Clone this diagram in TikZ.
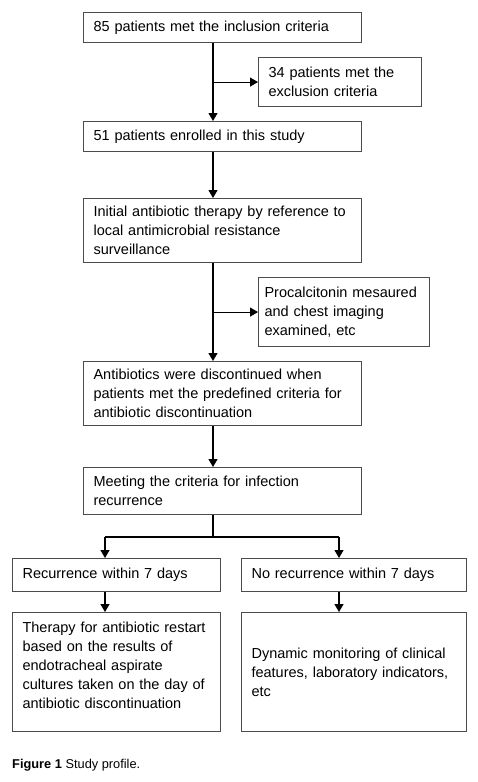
\documentclass[tikz,border=0pt]{standalone}
\usepackage{fontspec}
\setmainfont{Liberation Sans}
\usetikzlibrary{arrows.meta}
\begin{document}
\begin{tikzpicture}[x=1pt,y=-1pt,
  box/.style={draw=black!70,line width=1.1pt,anchor=north west,inner xsep=10pt,inner ysep=0pt,
    align=left,font=\fontsize{14.5}{19}\selectfont},
  arr/.style={line width=1.1pt,-{Triangle[length=8pt,width=9pt]}},
  ln/.style={line width=1.1pt}]
\useasboundingbox (0,0) rectangle (478,782);
\fill[white] (0,0) rectangle (478,782);
\newcommand{\bx}[7]{\node[box,text width=#4-20pt,minimum height=#5,#7] (#1) at (#2,#3) {#6};}
\bx{b1}{83}{12}{278pt}{30pt}{85 patients met the inclusion criteria}{}
\bx{ex}{258}{57}{163pt}{49pt}{34 patients met the\\exclusion criteria}{}
\bx{b2}{83}{121}{278pt}{30pt}{51 patients enrolled in this study}{}
\bx{b3}{83}{198}{278pt}{64pt}{Initial antibiotic therapy by reference to\\local antimicrobial resistance\\surveillance}{}
\bx{pct}{258}{277}{171pt}{69pt}{Procalcitonin mesaured\\and chest imaging\\examined, etc}{inner xsep=6pt,text width=159pt,xshift=0pt}
\bx{b4}{83}{361}{278pt}{64pt}{Antibiotics were discontinued when\\patients met the predefined criteria for\\antibiotic discontinuation}{}
\bx{b5}{83}{467}{278pt}{47pt}{Meeting the criteria for infection\\recurrence}{}
\bx{r1}{12}{558}{208pt}{33pt}{Recurrence within 7 days}{}
\bx{r2}{241}{558}{225pt}{33pt}{No recurrence within 7 days}{}
\bx{t1}{12}{612}{208pt}{119pt}{Therapy for antibiotic restart\\based on the results of\\endotracheal aspirate\\cultures taken on the day of\\antibiotic discontinuation\\[-6pt]\mbox{}}{}
\bx{t2}{241}{612}{225pt}{119pt}{Dynamic monitoring of clinical\\features, laboratory indicators,\\etc}{}
\coordinate (sp) at (213,0);
\coordinate (jl) at (105,537);
\coordinate (jr) at (339,537);
\draw[arr] (b1.south -| sp) -- (b2.north -| sp);
\draw[arr] (ex.west -| sp) -- (ex.west);
\draw[arr] (b2.south -| sp) -- (b3.north -| sp);
\draw[arr] (b3.south -| sp) -- (b4.north -| sp);
\draw[arr] (pct.west -| sp) -- (pct.west);
\draw[arr] (b4.south -| sp) -- (b5.north -| sp);
\draw[ln] (b5.south -| sp) -- (sp |- jl);
\draw[ln] (jl) -- (jr);
\draw[arr] (jl) -- (r1.north -| jl);
\draw[arr] (jr) -- (r2.north -| jr);
\draw[arr] (r1.south -| jl) -- (t1.north -| jl);
\draw[arr] (r2.south -| jr) -- (t2.north -| jr);
\node[anchor=base west,inner sep=0pt,font=\fontsize{12.8}{15}\selectfont] (cap) at (12,768) {\textbf{Figure 1} Study profile.};
\end{tikzpicture}
\end{document}
